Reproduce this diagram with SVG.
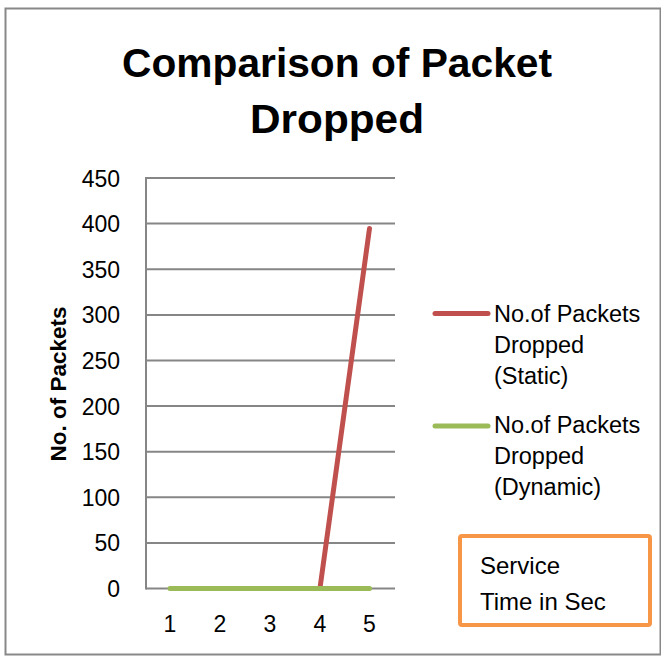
<svg xmlns="http://www.w3.org/2000/svg" width="661" height="656" viewBox="0 0 661 656">
<style>
text{font-family:"Liberation Sans",Arial,sans-serif;fill:#000}
.title{font-size:41px;font-weight:bold;text-anchor:middle}
.tick{font-size:23px;text-anchor:end}
.xt{font-size:23px;text-anchor:middle}
.leg{font-size:23.5px}
.box{font-size:24px}
.grid{stroke:#868686;stroke-width:2}
.s{fill:none;stroke-width:5;stroke-linecap:round}
</style>
<rect x="0" y="0" width="661" height="656" fill="#fff"/>
<rect x="5.5" y="8.5" width="655" height="646" fill="none" stroke="#888" stroke-width="2"/>
<g id="title">
<text class="title" x="337" y="77" textLength="430" lengthAdjust="spacingAndGlyphs">Comparison of Packet</text>
<text class="title" x="337" y="133" textLength="174" lengthAdjust="spacingAndGlyphs">Dropped</text>
</g>
<g id="grid">
<line class="grid" x1="146" y1="178" x2="395" y2="178"/>
<line class="grid" x1="146" y1="223.6" x2="395" y2="223.6"/>
<line class="grid" x1="146" y1="269.2" x2="395" y2="269.2"/>
<line class="grid" x1="146" y1="314.9" x2="395" y2="314.9"/>
<line class="grid" x1="146" y1="360.5" x2="395" y2="360.5"/>
<line class="grid" x1="146" y1="406.1" x2="395" y2="406.1"/>
<line class="grid" x1="146" y1="451.7" x2="395" y2="451.7"/>
<line class="grid" x1="146" y1="497.3" x2="395" y2="497.3"/>
<line class="grid" x1="146" y1="543" x2="395" y2="543"/>
<line class="grid" x1="146" y1="588.6" x2="395" y2="588.6"/>
<line class="grid" x1="146" y1="177" x2="146" y2="589.6"/>
</g>
<g id="yticks">
<text class="tick" x="120" y="187">450</text>
<text class="tick" x="120" y="232">400</text>
<text class="tick" x="120" y="278">350</text>
<text class="tick" x="120" y="323">300</text>
<text class="tick" x="120" y="369">250</text>
<text class="tick" x="120" y="415">200</text>
<text class="tick" x="120" y="460">150</text>
<text class="tick" x="120" y="506">100</text>
<text class="tick" x="120" y="551">50</text>
<text class="tick" x="120" y="597">0</text>
</g>
<g id="xticks">
<text class="xt" x="170" y="632">1</text>
<text class="xt" x="220" y="632">2</text>
<text class="xt" x="270" y="632">3</text>
<text class="xt" x="320" y="632">4</text>
<text class="xt" x="369.5" y="632">5</text>
</g>
<g id="ytitle">
<text x="0" y="0" font-size="22.5" font-weight="bold" text-anchor="middle" transform="translate(66,384) rotate(-90)">No. of Packets</text>
</g>
<g id="series">
<polyline class="s" stroke="#C0504D" points="320,588 369.5,228.5"/>
<polyline class="s" stroke="#9BBB59" points="170,588.6 369.5,588.6"/>
</g>
<g id="legend">
<line class="s" stroke="#C0504D" x1="435" y1="313.5" x2="488" y2="313.5"/>
<text class="leg" x="494" y="322">No.of Packets</text>
<text class="leg" x="494" y="353">Dropped</text>
<text class="leg" x="494" y="384">(Static)</text>
<line class="s" stroke="#9BBB59" x1="435" y1="426" x2="488" y2="426"/>
<text class="leg" x="494" y="433">No.of Packets</text>
<text class="leg" x="494" y="464">Dropped</text>
<text class="leg" x="494" y="495">(Dynamic)</text>
</g>
<g id="xlabel">
<rect x="460" y="536" width="190" height="89" rx="2" fill="#fff" stroke="#F79646" stroke-width="4"/>
<text class="box" x="480" y="574">Service</text>
<text class="box" x="480" y="610">Time in Sec</text>
</g>
</svg>
